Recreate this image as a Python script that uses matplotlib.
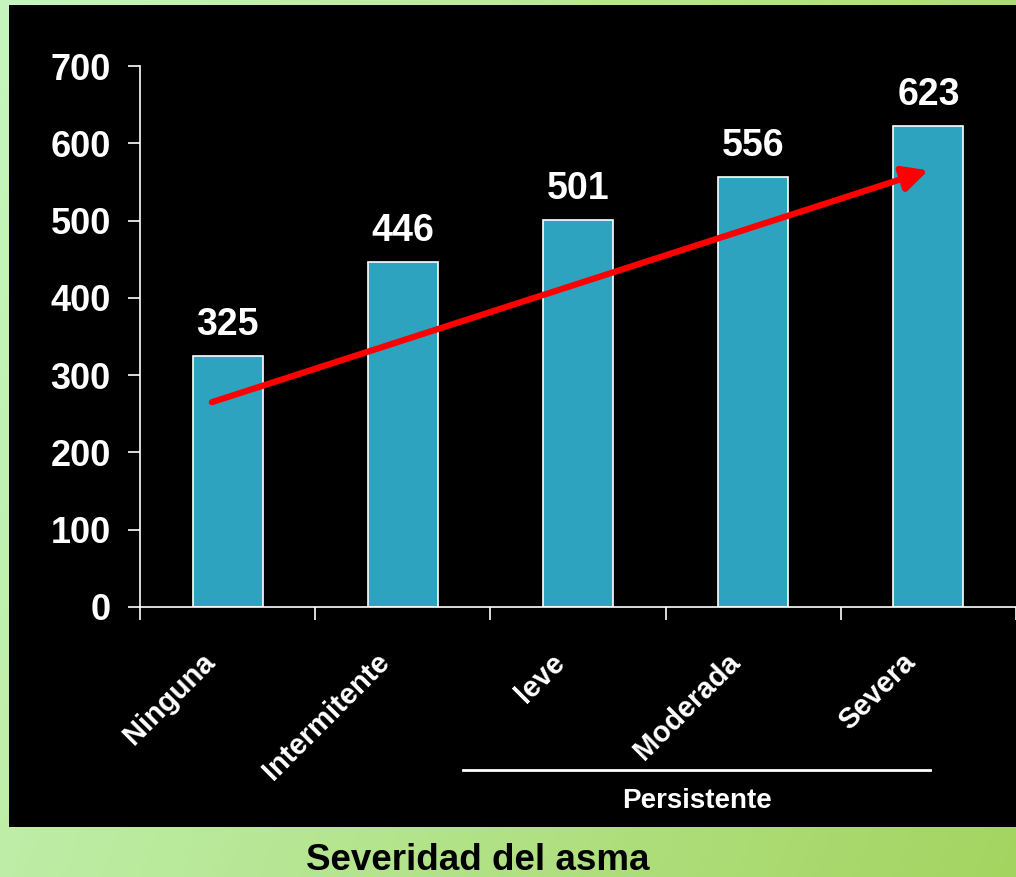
import numpy as np
import matplotlib.pyplot as plt
from matplotlib.patches import Rectangle

# severity categories and values
categorias = ['Ninguna', 'Intermitente', 'leve', 'Moderada', 'Severa']
valores = [325, 446, 501, 556, 623]
yticks = [0, 100, 200, 300, 400, 500, 600, 700]
# trend arrow endpoints (category position, value)
flecha_x = [-0.09, 4.0]
flecha_y = [265, 565]

plt.rcParams['font.family'] = ['Liberation Sans', 'DejaVu Sans']
plt.rcParams['font.weight'] = 'bold'

W, H = 1016, 877
fig = plt.figure(figsize=(W / 100, H / 100), dpi=100)

# green gradient background
bg = fig.add_axes([0, 0, 1, 1], zorder=-2)
gx, gy = np.meshgrid(np.linspace(0, 1, 200), np.linspace(0, 1, 200))
t = np.clip(0.75 * gx + 0.25 * gy, 0, 1)
c0 = np.array([198, 246, 190]) / 255
c1 = np.array([164, 212, 96]) / 255
img = c0[None, None, :] * (1 - t[..., None]) + c1[None, None, :] * t[..., None]
bg.imshow(img, aspect='auto', extent=[0, 1, 0, 1], origin='upper')
bg.set_xlim(0, 1)
bg.set_ylim(0, 1)
bg.axis('off')

# black panel
bg.add_patch(Rectangle((9 / W, 1 - 827 / H), 1 - 9 / W, (827 - 5) / H,
                       transform=bg.transAxes, facecolor='black', edgecolor='none'))

ax = fig.add_axes([140 / W, 1 - 607 / H, (W - 140) / W, (607 - 66) / H])
ax.set_facecolor('none')
x = np.arange(len(categorias))
ax.bar(x, valores, width=0.4, color='#2ea3c0', edgecolor='white', linewidth=1.2, zorder=2)

for xi, v in zip(x, valores):
    ax.annotate(str(v), (xi, v), xytext=(0, 15), textcoords='offset points',
                ha='center', va='baseline', color='white', fontsize=27, fontweight='bold')

ax.annotate('', xy=(flecha_x[1], flecha_y[1]), xytext=(flecha_x[0], flecha_y[0]),
            arrowprops=dict(arrowstyle='-|>,head_length=1.5,head_width=0.75',
                            color='#ff0000', lw=4.5, shrinkA=0, shrinkB=0), zorder=3)

ax.set_xlim(-0.5, len(categorias) - 0.5)
ax.set_ylim(0, 700)
ax.set_yticks(yticks)
ax.set_yticklabels([str(v) for v in yticks], color='white', fontsize=26, fontweight='bold')
ax.tick_params(axis='y', colors='white', length=9, width=1.2, pad=12)

# ticks at category boundaries, rotated labels under each bar
ax.set_xticks(np.arange(-0.5, len(categorias)))
ax.set_xticklabels([])
ax.tick_params(axis='x', colors='white', length=9, width=1.2)
for xi, cat in zip(x, categorias):
    ax.annotate(cat, (xi, 0), xytext=(-19.5, -29.5), textcoords='offset points',
                rotation=45, rotation_mode='anchor', ha='right', va='top',
                color='white', fontsize=21, fontweight='bold', annotation_clip=False)

for s in ['top', 'right']:
    ax.spines[s].set_visible(False)
for s in ['left', 'bottom']:
    ax.spines[s].set_color('white')
    ax.spines[s].set_linewidth(1.2)

# bracket for persistent categories
bg.plot([463 / W, 930 / W], [1 - 770 / H, 1 - 770 / H], color='white', lw=2,
        transform=bg.transAxes)
bg.text(697 / W, 1 - 801 / H, 'Persistente', ha='center', va='center', color='white',
        fontsize=20, fontweight='bold', transform=bg.transAxes)

bg.text(478 / W, 1 - 861 / H, 'Severidad del asma', ha='center', va='center', color='black',
        fontsize=26.5, fontweight='bold', transform=bg.transAxes)

fig.savefig('out.png', dpi=100)
